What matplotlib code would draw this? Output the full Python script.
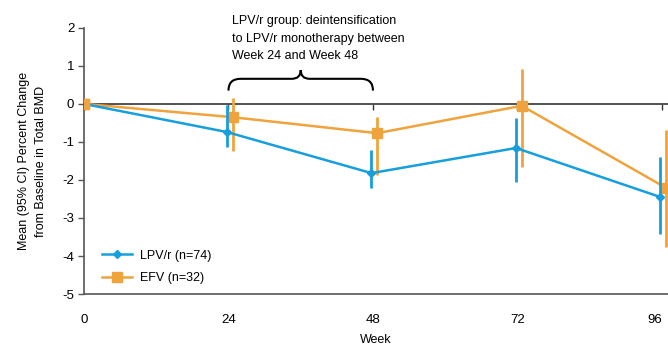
import numpy as np
import matplotlib.pyplot as plt
from matplotlib.path import Path
from matplotlib.patches import PathPatch
from matplotlib.lines import Line2D

plt.rcParams['font.family'] = ['Liberation Sans', 'DejaVu Sans']
plt.rcParams['axes.unicode_minus'] = False

weeks = [0, 24, 48, 72, 96]
lpv_mean = [0, -0.74, -1.82, -1.16, -2.45]
lpv_lo = [0, -1.13, -2.20, -2.05, -3.42]
lpv_hi = [0, -0.02, -1.20, -0.37, -1.39]
efv_mean = [0, -0.35, -0.77, -0.05, -2.21]
efv_lo = [0, -1.25, -1.87, -1.66, -3.76]
efv_hi = [0, 0.15, -0.35, 0.92, -0.68]

blue = '#169fdc'
orange = '#f0a33c'
axc = '#555555'
fs = 9

fig = plt.figure(figsize=(6.68, 3.48), dpi=100)
ax = fig.add_axes([0.1257, 0.155, 0.8743, 0.765])

xb = np.array(weeks) - 0.25
xo = np.array(weeks) + 0.7
xo[0] = 0
xb[0] = 0
lm = np.array(lpv_mean)
em = np.array(efv_mean)
ax.errorbar(xb, lm, yerr=[lm - np.array(lpv_lo), np.array(lpv_hi) - lm],
            color=blue, lw=1.8, marker='D', ms=4.5, elinewidth=2, capsize=0, zorder=3)
ax.errorbar(xo, em, yerr=[em - np.array(efv_lo), np.array(efv_hi) - em],
            color=orange, lw=1.8, marker='s', ms=6.5, elinewidth=2, capsize=0, zorder=2)
# baseline square drawn on top, as in the original
ax.plot(xo[:1], em[:1], marker='s', ms=6.5, color=orange, zorder=4)

ax.set_xlim(0, 97.0)
ax.set_ylim(-5, 2)
ax.set_xticks(weeks)
ax.set_yticks(range(-5, 3))
ax.tick_params(axis='x', length=0, pad=14, labelsize=fs + 0.5)
ax.tick_params(axis='y', length=4, width=1, color=axc, labelsize=fs + 0.5, pad=3)
ax.get_xticklabels()[-1].set_horizontalalignment('right')
ax.get_xticklabels()[-1].set_x(96.8)
for s in ['top', 'right']:
    ax.spines[s].set_visible(False)
for s in ['left', 'bottom']:
    ax.spines[s].set_color(axc)
    ax.spines[s].set_linewidth(1.2)

# zero line with its own ticks
sec = ax.secondary_xaxis(5 / 7)
sec.set_xticks(weeks)
sec.tick_params(axis='x', direction='in', length=4, width=1, color='#333333',
                labelbottom=False, labeltop=False)
sec.spines['top'].set_color(axc)
sec.spines['top'].set_linewidth(1.4)
sec.spines['bottom'].set_color(axc)
sec.spines['bottom'].set_linewidth(1.4)
ax.axhline(0, color=axc, lw=1.4, zorder=1)

ax.set_xlabel('Week', fontsize=fs, labelpad=6)
ax.set_ylabel('Mean (95% CI) Percent Change\nfrom Baseline in Total BMD', fontsize=fs,
              labelpad=11, linespacing=1.55)

# curly brace over weeks 24-48
y0, y1, ym = 0.35, 0.66, 0.89
xm = 36
verts = [(24, y0), (24, y1), (26, y1),
         (xm - 1.5, y1), (xm, y1), (xm, ym),
         (xm, y1), (xm + 1.5, y1),
         (46, y1), (48, y1), (48, y0)]
codes = [Path.MOVETO, Path.CURVE3, Path.CURVE3,
         Path.LINETO, Path.CURVE3, Path.CURVE3,
         Path.CURVE3, Path.CURVE3,
         Path.LINETO, Path.CURVE3, Path.CURVE3]
ax.add_patch(PathPatch(Path(verts, codes), fill=False, lw=1.5, color='black', clip_on=False))
ax.text(24.6, 2.33, 'LPV/r group: deintensification\nto LPV/r monotherapy between\nWeek 24 and Week 48',
        fontsize=fs, va='top', ha='left', linespacing=1.62)

handles = [Line2D([], [], color=blue, lw=1.8, marker='D', ms=4.5),
           Line2D([], [], color=orange, lw=1.8, marker='s', ms=6.5)]
ax.legend(handles, ['LPV/r (n=74)', 'EFV (n=32)'], loc='lower left',
          bbox_to_anchor=(0.012, -0.005), frameon=False, fontsize=fs,
          handlelength=2.4, handletextpad=0.6, labelspacing=0.85)

fig.savefig('out.png', dpi=100)
